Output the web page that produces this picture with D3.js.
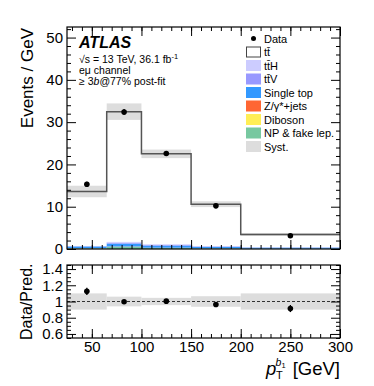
<!DOCTYPE html>
<html><head><meta charset="utf-8">
<script src="https://cdn.jsdelivr.net/npm/d3@7"></script>
<style>
body{margin:0;background:#fff;}
text{font-family:"Liberation Sans",Arial,Helvetica,sans-serif;}
</style></head>
<body>
<svg id="c" width="374" height="386"></svg>
<script>
// ---- data ----
const binEdges = [25, 65, 100, 150, 200, 300];
const dataX = [45, 82.5, 125, 175, 250];
const dataValues = [15.3, 32.4, 22.6, 10.2, 3.15];
const dataErrors = [0.6, 0.7, 0.45, 0.3, 0.15];
const ttbar   = [12.9, 30.8, 21.4, 9.9, 3.05];
const ttH     = [0.05, 0.2, 0.15, 0.1, 0.04];
const ttV     = [0.05, 0.2, 0.15, 0.1, 0.04];
const singleTop = [0.4, 0.7, 0.5, 0.35, 0.25];
const zjets   = [0.03, 0.05, 0.03, 0.02, 0.01];
const diboson = [0.02, 0.03, 0.02, 0.01, 0.01];
const npFake  = [0.15, 0.5, 0.25, 0.12, 0.05];
const systRel = [0.10, 0.06, 0.045, 0.065, 0.10];
const yTicksMain = [0, 10, 20, 30, 40, 50];
const yTicksRatio = [0.6, 0.8, 1, 1.2, 1.4];
const xTicks = [50, 100, 150, 200, 250, 300];
const legendNames = ["Data", "tt\u0304", "tt\u0304H", "tt\u0304V", "Single top", "Z/\u03b3*+jets", "Diboson", "NP & fake lep.", "Syst."];

const colors = {ttH:"#ccccff", ttV:"#9999ff", singleTop:"#3399ff", zjets:"#ff6633", diboson:"#ffee55", npFake:"#77c8a0", syst:"#dddddd"};

const svg = d3.select("#c");
const X0 = 67, X1 = 340;
const x = d3.scaleLinear().domain([25, 300]).range([X0, X1]);
const y = d3.scaleLinear().domain([0, 52.5]).range([249, 27]);
const yr = d3.scaleLinear().domain([0.55, 1.45]).range([338, 265]);

const nb = dataValues.length;
// stack: bottom -> top
const stackOrder = [["npFake", npFake], ["diboson", diboson], ["zjets", zjets], ["singleTop", singleTop], ["ttV", ttV], ["ttH", ttH]];
const totals = d3.range(nb).map(i => stackOrder.reduce((s, d) => s + d[1][i], 0) + ttbar[i]);

// syst band main
const gMain = svg.append("g");
d3.range(nb).forEach(i => {
  gMain.append("rect").attr("x", x(binEdges[i])).attr("width", x(binEdges[i+1]) - x(binEdges[i]))
    .attr("y", y(totals[i] * (1 + systRel[i]))).attr("height", y(totals[i] * (1 - systRel[i])) - y(totals[i] * (1 + systRel[i])))
    .attr("fill", colors.syst);
});
// stacked backgrounds
d3.range(nb).forEach(i => {
  let base = 0;
  stackOrder.forEach(([k, arr]) => {
    const v = arr[i];
    gMain.append("rect").attr("x", x(binEdges[i])).attr("width", x(binEdges[i+1]) - x(binEdges[i]))
      .attr("y", y(base + v)).attr("height", y(base) - y(base + v)).attr("fill", colors[k]);
    base += v;
  });
});
// total step line
let stepPts = [];
d3.range(nb).forEach(i => { stepPts.push([binEdges[i], totals[i]]); stepPts.push([binEdges[i+1], totals[i]]); });
gMain.append("path").attr("d", d3.line().x(d => x(d[0])).y(d => y(d[1]))(stepPts))
  .attr("fill", "none").attr("stroke", "#555").attr("stroke-width", 1.5);

// data points main
d3.range(nb).forEach(i => {
  gMain.append("line").attr("x1", x(dataX[i])).attr("x2", x(dataX[i]))
    .attr("y1", y(dataValues[i] - dataErrors[i])).attr("y2", y(dataValues[i] + dataErrors[i]))
    .attr("stroke", "#000").attr("stroke-width", 1.3);
  gMain.append("circle").attr("cx", x(dataX[i])).attr("cy", y(dataValues[i])).attr("r", 2.8).attr("fill", "#000");
});

// axes helpers
function frameAxes(ys, yMajor, yMinor, top, bottom, showXLabels, yFormat) {
  const g = svg.append("g");
  const xMinor = d3.range(30, 301, 10);
  const mk = (axis, tr) => { const a = g.append("g").attr("transform", tr).call(axis); a.select(".domain").remove(); a.selectAll("line").attr("stroke", "#000"); a.selectAll("text").attr("font-size", 15).attr("fill", "#000"); return a; };
  mk(d3.axisBottom(x).tickValues(xTicks).tickSize(-9).tickPadding(3).tickFormat(showXLabels ? d3.format("d") : ""), `translate(0,${bottom})`);
  mk(d3.axisBottom(x).tickValues(xMinor).tickSize(-4).tickFormat(""), `translate(0,${bottom})`);
  mk(d3.axisTop(x).tickValues(xTicks).tickSize(-9).tickFormat(""), `translate(0,${top})`);
  mk(d3.axisTop(x).tickValues(xMinor).tickSize(-4).tickFormat(""), `translate(0,${top})`);
  mk(d3.axisLeft(ys).tickValues(yMajor).tickSize(-9).tickPadding(4).tickFormat(yFormat), `translate(${X0},0)`);
  mk(d3.axisLeft(ys).tickValues(yMinor).tickSize(-4).tickFormat(""), `translate(${X0},0)`);
  mk(d3.axisRight(ys).tickValues(yMajor).tickSize(-9).tickFormat(""), `translate(${X1},0)`);
  mk(d3.axisRight(ys).tickValues(yMinor).tickSize(-4).tickFormat(""), `translate(${X1},0)`);
  g.append("rect").attr("x", X0).attr("y", top).attr("width", X1 - X0).attr("height", bottom - top)
    .attr("fill", "none").attr("stroke", "#000").attr("stroke-width", 1.2);
  return g;
}
frameAxes(y, yTicksMain, d3.range(2, 52.5, 2).filter(v => v % 10 !== 0), 27, 249, false, d3.format("d"));

// ratio band
const gR = svg.append("g");
d3.range(nb).forEach(i => {
  gR.append("rect").attr("x", x(binEdges[i])).attr("width", x(binEdges[i+1]) - x(binEdges[i]))
    .attr("y", yr(1 + systRel[i])).attr("height", yr(1 - systRel[i]) - yr(1 + systRel[i])).attr("fill", colors.syst);
});
gR.append("line").attr("x1", X0).attr("x2", X1).attr("y1", yr(1)).attr("y2", yr(1))
  .attr("stroke", "#333").attr("stroke-width", 1).attr("stroke-dasharray", "3,2");
d3.range(nb).forEach(i => {
  const r = dataValues[i] / totals[i], e = dataErrors[i] / totals[i];
  gR.append("line").attr("x1", x(dataX[i])).attr("x2", x(dataX[i])).attr("y1", yr(r - e)).attr("y2", yr(r + e))
    .attr("stroke", "#000").attr("stroke-width", 1.3);
  gR.append("circle").attr("cx", x(dataX[i])).attr("cy", yr(r)).attr("r", 2.8).attr("fill", "#000");
});
const rMinor = d3.range(0.55, 1.451, 0.05).map(v => +v.toFixed(2)).filter(v => !yTicksRatio.some(t => Math.abs(t - v) < 1e-6));
frameAxes(yr, yTicksRatio, rMinor, 265, 338, true, d => (d === 1 ? "1" : d3.format(".1f")(d)));

// axis titles
svg.append("text").attr("transform", "translate(33,28) rotate(-90)").attr("text-anchor", "end")
  .attr("font-size", 17).text("Events / GeV");
svg.append("text").attr("transform", "translate(32,340) rotate(-90)").attr("text-anchor", "start")
  .attr("font-size", 16).text("Data/Pred.");
// x title: p_T^{b1} [GeV]
const gx = svg.append("g");
gx.append("text").attr("x", 340).attr("y", 375).attr("text-anchor", "end").attr("font-size", 18.5).text("[GeV]");
gx.append("text").attr("x", 266).attr("y", 375).attr("font-size", 18.5).attr("font-style", "italic").text("p");
gx.append("text").attr("x", 276).attr("y", 379).attr("font-size", 11).text("T");
gx.append("text").attr("x", 275.5).attr("y", 365.5).attr("font-size", 10.5).attr("font-style", "italic").text("b");
gx.append("text").attr("x", 281.5).attr("y", 368).attr("font-size", 7.5).text("1");

// ATLAS label
svg.append("text").attr("x", 79).attr("y", 48).attr("font-size", 16).attr("font-weight", "bold").attr("font-style", "italic").text("ATLAS");
const l2 = svg.append("text").attr("x", 79).attr("y", 63).attr("font-size", 10.5);
l2.append("tspan").text("\u221as = 13 TeV, 36.1 fb");
l2.append("tspan").attr("font-size", 7.5).attr("dy", -4).text("-1");
svg.append("text").attr("x", 79).attr("y", 74).attr("font-size", 10.5).text("e\u03bc channel");
const l4 = svg.append("text").attr("x", 79).attr("y", 85).attr("font-size", 10.5);
l4.append("tspan").text("\u2265 3");
l4.append("tspan").attr("font-style", "italic").text("b");
l4.append("tspan").text("@77% post-fit");

// legend
const legKeys = ["data", "ttbar", "ttH", "ttV", "singleTop", "zjets", "diboson", "npFake", "syst"];
const lg = svg.append("g");
legKeys.forEach((k, i) => {
  const cy = 38.5 + i * 13.5;
  if (k === "data") {
    lg.append("circle").attr("cx", 253.5).attr("cy", cy).attr("r", 2.5).attr("fill", "#000");
  } else if (k === "ttbar") {
    lg.append("rect").attr("x", 246.5).attr("y", cy - 5).attr("width", 14).attr("height", 10).attr("fill", "#fff").attr("stroke", "#444").attr("stroke-width", 1);
  } else {
    lg.append("rect").attr("x", 246).attr("y", cy - 5.5).attr("width", 15).attr("height", 11).attr("fill", colors[k]);
  }
  lg.append("text").attr("x", 264).attr("y", cy + 4).attr("font-size", 11).text(legendNames[i]);
});
</script>
</body></html>
